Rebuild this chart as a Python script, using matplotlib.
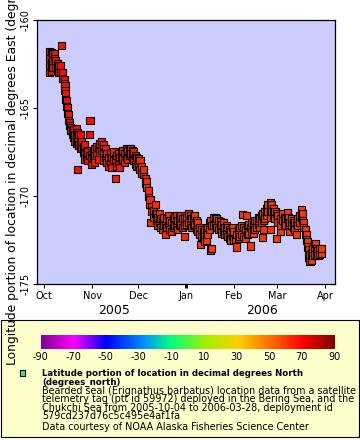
import numpy as np
import matplotlib
matplotlib.use("Agg")
import matplotlib.pyplot as plt
from matplotlib.colors import LinearSegmentedColormap, Normalize
from matplotlib.patches import Rectangle
import matplotlib.dates as mdates

plt.rcParams['font.family'] = ['DejaVu Sans']

# days since 2005-10-01, longitude (degrees east)
oct_pts = [(3.5, -161.8), (3.5, -162.2), (3.5, -162.6), (3.5, -163.0), (4.5, -161.85), (4.5, -162.4),
           (4.5, -162.9), (5.5, -161.9), (5.5, -162.3), (5.5, -162.7), (6.5, -161.9), (6.5, -162.2),
           (7.5, -162.3), (7.5, -162.7), (8.5, -162.5), (8.5, -162.9), (9.5, -162.6), (9.5, -163.0),
           (10.6, -162.6), (10.6, -163.0), (11.3, -161.46), (11.9, -163.0), (11.9, -163.3),
           (12.8, -163.4), (12.8, -163.6), (13.4, -163.7), (13.4, -164.0), (13.8, -164.2),
           (13.8, -164.5), (14.3, -164.6), (14.3, -164.9), (15.0, -165.0), (15.0, -165.3),
           (15.6, -165.4), (15.6, -165.7), (16.4, -165.8), (16.4, -166.0), (17.2, -166.1),
           (17.2, -166.3), (18.0, -166.2), (18.0, -166.5), (18.8, -166.25), (18.8, -166.7),
           (19.7, -166.5), (19.7, -166.9), (20.6, -166.15), (20.6, -166.6), (20.6, -167.0),
           (21.6, -168.47), (21.6, -166.4), (21.6, -166.9), (22.4, -166.5), (22.4, -167.1),
           (23.2, -166.5), (23.2, -167.0), (23.2, -167.3), (24.3, -166.9), (24.3, -167.3),
           (25.3, -167.2), (25.3, -167.5), (26.3, -167.1), (26.3, -167.6), (26.3, -167.9),
           (27.5, -167.8), (27.5, -167.4), (28.3, -167.5), (28.3, -168.0), (29.0, -166.5),
           (29.0, -167.7), (29.6, -165.7), (30.5, -167.4), (30.5, -167.9), (30.5, -168.2)]
nov_pts = [(31.8, -167.86), (31.8, -167.5), (32.8, -167.3), (32.8, -167.7), (32.8, -168.1),
           (34, -167.2), (34, -167.6), (35, -167.3), (35, -167.9), (36, -167.0), (36, -167.5),
           (37.2, -166.9), (37.2, -167.4), (38.3, -167.1), (38.3, -167.6), (38.3, -168.0),
           (39.4, -167.3), (39.4, -167.8), (40.5, -167.6), (40.5, -168.1), (41.5, -168.3),
           (41.5, -167.8), (42.6, -167.6), (42.6, -168.1), (43.6, -167.8), (43.6, -168.4),
           (44.6, -167.5), (44.6, -168.0), (45.9, -169.03), (45.9, -167.9), (47, -167.7),
           (47, -168.3), (48, -167.6), (48, -168.1), (49, -167.8), (49, -168.4), (50, -167.5),
           (50, -168.0), (51, -167.4), (51, -167.9), (52, -167.6), (52, -168.1), (53, -167.3),
           (53, -167.8), (54, -167.4), (54, -167.9), (55, -167.3), (55, -167.7), (56, -167.3),
           (56, -167.6), (57, -167.4), (57, -167.9), (58, -167.5), (58, -168.0), (59, -167.7),
           (59, -168.2), (60, -167.8), (60, -168.3)]
dec_pts = [(61, -167.9), (61, -168.3), (62, -168.0), (62, -168.5), (63, -168.3), (63, -168.7),
           (64.2, -168.8), (64.2, -168.5), (65.3, -169.0), (65.3, -169.3), (66.4, -169.2),
           (66.4, -169.5), (67.4, -170.0), (67.4, -169.7), (68.5, -170.5), (68.5, -170.2),
           (69, -171.5), (69.6, -170.6), (69.6, -170.9), (70.7, -170.8), (70.7, -171.2),
           (71.8, -170.5), (71.8, -171.0), (72.8, -171.0), (72.8, -171.4), (73.7, -171.2),
           (73.7, -171.7), (74.6, -171.0), (74.6, -171.5), (75.6, -171.3), (75.6, -171.8),
           (76.5, -171.4), (76.5, -171.9), (77.4, -171.2), (77.4, -171.7), (78.3, -172.2),
           (78.3, -171.6), (79.3, -171.3), (79.3, -171.8), (80.3, -171.1), (80.3, -171.6),
           (81.3, -171.4), (81.3, -171.9), (82.6, -172.0), (82.6, -171.5), (83.6, -171.3),
           (83.6, -171.8), (84.6, -171.2), (84.6, -171.7), (85.6, -171.1), (85.6, -171.6),
           (86.6, -171.4), (86.6, -171.9), (87.6, -171.2), (87.6, -171.7), (88.6, -171.1),
           (88.6, -171.6), (89.6, -171.3), (89.6, -171.8), (90.8, -172.3), (90.8, -171.5),
           (91.2, -171.2), (91.2, -171.7)]
jan_pts = [(92.5, -171.2), (92.5, -171.6), (93.5, -171.0), (93.5, -171.5), (94.5, -171.1),
           (94.5, -171.6), (95.5, -171.3), (95.5, -171.8), (96.5, -171.2), (96.5, -171.7),
           (97.5, -171.1), (97.5, -171.6), (98.5, -171.4), (98.5, -171.9), (99.5, -171.5),
           (99.5, -172.0), (100.5, -171.8), (100.5, -172.2), (101, -172.77), (102, -171.9),
           (102, -172.3), (103, -172.0), (103, -172.4), (104, -171.9), (104, -172.3),
           (104, -172.6), (105, -172.0), (105, -172.5), (106, -171.8), (106, -172.2),
           (107, -171.5), (107, -171.9), (108, -173.07), (108, -171.4), (108.6, -173.0),
           (108.6, -171.7), (109.5, -171.2), (109.5, -171.7), (110.7, -171.2), (110.7, -171.6),
           (111.7, -171.3), (111.7, -171.8), (112.7, -171.4), (112.7, -171.9), (114, -171.46),
           (114, -171.9), (115, -171.6), (115, -172.1), (116, -171.5), (116, -172.0),
           (117, -171.8), (117, -172.2), (118, -172.1), (118, -171.7), (119, -171.8),
           (119, -172.3), (120, -171.9), (120, -172.4), (121, -172.0), (121, -172.5),
           (122, -171.8), (122, -172.3)]
feb_pts = [(123, -172.0), (123, -172.5), (123.7, -172.5), (124.8, -172.9), (124.8, -172.2),
           (125.8, -171.9), (125.8, -172.4), (126.8, -171.8), (126.8, -172.3), (127.8, -171.7),
           (127.8, -172.2), (128.7, -171.04), (129.5, -171.8), (129.5, -172.3), (130.5, -171.9),
           (130.5, -172.4), (131.3, -171.1), (131.5, -171.7), (131.5, -172.2), (132.5, -171.6),
           (132.5, -172.1), (133.9, -172.84), (133.9, -171.8), (134.5, -171.5), (134.5, -172.0),
           (135.5, -171.6), (135.5, -172.1), (136.5, -171.4), (136.5, -171.9), (137.7, -171.4),
           (137.7, -171.8), (138.7, -171.2), (138.7, -171.6), (139.7, -171.3), (139.7, -171.8),
           (140.7, -171.1), (140.7, -171.5), (141.6, -172.35), (141.6, -171.0), (142, -171.9),
           (142, -171.4), (143, -170.9), (143, -171.3), (144, -170.7), (144, -171.1),
           (145, -170.5), (145, -170.9), (146.4, -170.4), (146.4, -170.8), (146.8, -171.9),
           (146.8, -171.2), (147.5, -170.5), (147.5, -170.9), (148.5, -170.7), (148.5, -171.1),
           (149.6, -170.9), (149.6, -171.3), (150.7, -172.44), (150.7, -171.0)]
mar_pts = [(151.5, -171.1), (151.5, -171.5), (152.9, -172.0), (152.9, -171.4), (153.5, -171.3),
           (153.5, -171.7), (154.5, -171.0), (154.5, -171.4), (155.5, -171.2), (155.5, -171.6),
           (156.5, -171.3), (156.5, -171.7), (157.6, -170.95), (157.6, -171.3), (158.5, -171.2),
           (158.5, -171.6), (159.3, -172.0), (159.3, -171.5), (160.4, -171.27), (160.4, -171.7),
           (161.4, -171.4), (161.4, -171.8), (162.4, -171.5), (162.4, -171.9), (163.7, -172.2),
           (163.7, -171.6), (164.5, -171.3), (164.5, -171.7), (165.5, -171.1), (165.5, -171.5),
           (166.9, -170.76), (166.9, -171.2), (167.6, -171.0), (167.6, -171.4), (168.3, -171.5),
           (168.3, -171.8), (169.1, -171.9), (169.1, -172.2), (170.2, -172.2), (170.2, -172.5),
           (170.8, -172.6), (170.8, -172.9), (171.2, -173.07), (171.2, -173.5), (172.3, -173.7),
           (172.3, -173.3), (173, -173.64), (173, -173.2), (174, -173.0), (174, -173.4),
           (175, -172.9), (175, -173.3), (175.6, -172.7), (176.7, -173.35), (176.7, -173.0),
           (177.5, -173.1), (177.5, -173.4), (178.5, -173.0), (178.5, -173.3), (179.9, -173.26),
           (179.9, -173.0)]
month_groups = [oct_pts, nov_pts, dec_pts, jan_pts, feb_pts, mar_pts]
month_lat = [68, 66, 63, 61, 61, 61]

cbar_ticks = [-90, -70, -50, -30, -10, 10, 30, 50, 70, 90]
month_labels = ['Oct', 'Nov', 'Dec', 'Jan', 'Feb', 'Mar', 'Apr']
month_dates = ['2005-10-01', '2005-11-01', '2005-12-01', '2006-01-01',
               '2006-02-01', '2006-03-01', '2006-04-01']

rainbow = LinearSegmentedColormap.from_list('erddap_rainbow', [
    (0.00, '#800090'), (0.11, '#ff00ff'), (0.22, '#0000ff'), (0.35, '#0090ff'),
    (0.44, '#00ff80'), (0.56, '#a0f000'), (0.67, '#ffd000'), (0.78, '#ff7000'),
    (0.89, '#ff0000'), (1.00, '#800000')])
norm = Normalize(-90, 90)

base = np.datetime64('2005-10-01T00:00:00')
days = np.array([p[0] for g in month_groups for p in g])
lon = np.array([p[1] for g in month_groups for p in g])
lat = np.array([month_lat[i] for i, g in enumerate(month_groups) for p in g])
times = base + (days * 86400).astype('timedelta64[s]')

fig = plt.figure(figsize=(3.6, 4.4), dpi=100)
W, H = 360, 440

# legend box (behind everything)
fig.patches.append(Rectangle((0.5 / W, 1 - 437 / H), 358.5 / W, 117 / H, transform=fig.transFigure,
                             facecolor='#ffffcc', edgecolor='black', linewidth=0.8, zorder=-1))

ax = fig.add_axes([37.3 / W, 1 - 284 / H, 297.7 / W, 264 / H])
ax.set_facecolor('#ccccff')
ax.scatter(times, lon, marker='s', s=26, c=rainbow(norm(lat)), edgecolors='black',
           linewidths=0.8, zorder=3)
ax.set_xlim(base - np.timedelta64(110, 'h'), np.datetime64('2006-04-07T12:00'))
ax.set_ylim(-175, -160)
ax.set_yticks([-175, -170, -165, -160])
ax.set_yticklabels(['-175', '-170', '-165', '-160'], rotation=90, va='center', fontsize=7)
mt = [mdates.date2num(np.datetime64(d)) for d in month_dates]
ax.set_xticks(mt)
ax.set_xticklabels(month_labels, fontsize=7)
ax.tick_params(direction='out', length=3, width=0.8, pad=2)
ax.xaxis.get_major_ticks()[3].tick1line.set_markeredgewidth(2)
for s in ax.spines.values():
    s.set_linewidth(0.9)

ax.text(mdates.date2num(np.datetime64('2005-11-15T12:00')), -176.53, '2005',
        ha='center', va='center', fontsize=9)
ax.text(mdates.date2num(np.datetime64('2006-02-19')), -176.53, '2006',
        ha='center', va='center', fontsize=9)

fig.text(13 / W, 1 - 152 / H,
         'Longitude portion of location in decimal degrees East (degrees_east)',
         rotation=90, ha='center', va='center', fontsize=8.9, zorder=5)

# colour bar
cax = fig.add_axes([40.7 / W, 1 - 349.3 / H, 293.6 / W, 14.6 / H])
cax.imshow(np.linspace(-90, 90, 256)[None, :], aspect='auto', cmap=rainbow, norm=norm,
           extent=[-90, 90, 0, 1])
cax.set_xlim(-90, 90)
cax.set_yticks([])
cax.set_xticks(cbar_ticks)
cax.set_xticklabels([str(t) for t in cbar_ticks], fontsize=7)
cax.tick_params(length=0, pad=2)
for s in cax.spines.values():
    s.set_visible(False)

# legend entry
fig.patches.append(Rectangle((19.5 / W, 1 - 375.5 / H), 5.5 / W, 5.5 / H, transform=fig.transFigure,
                             facecolor='#44ee44', edgecolor='black', linewidth=0.8, zorder=2))
lines = [('Latitude portion of location in decimal degrees North', 'bold', 6.2),
         ('(degrees_north)', 'bold', 6.2),
         ('Bearded seal (Erignathus barbatus) location data from a satellite', 'normal', 6.9),
         ('telemetry tag (ptt id 59972) deployed in the Bering Sea, and the', 'normal', 6.9),
         ('Chukchi Sea from 2005-10-04 to 2006-03-28, deployment id', 'normal', 6.9),
         ('579cd237d76c5c495e4af1fa', 'normal', 6.9),
         ('Data courtesy of NOAA Alaska Fisheries Science Center', 'normal', 6.9)]
ys = [373, 382, 390.5, 399, 407.5, 416, 426.5]
for (t, w, fs), y in zip(lines, ys):
    fig.text(42 / W, 1 - y / H, t, ha='left', va='center', fontsize=fs, fontweight=w)

fig.savefig('out.png', dpi=100)
